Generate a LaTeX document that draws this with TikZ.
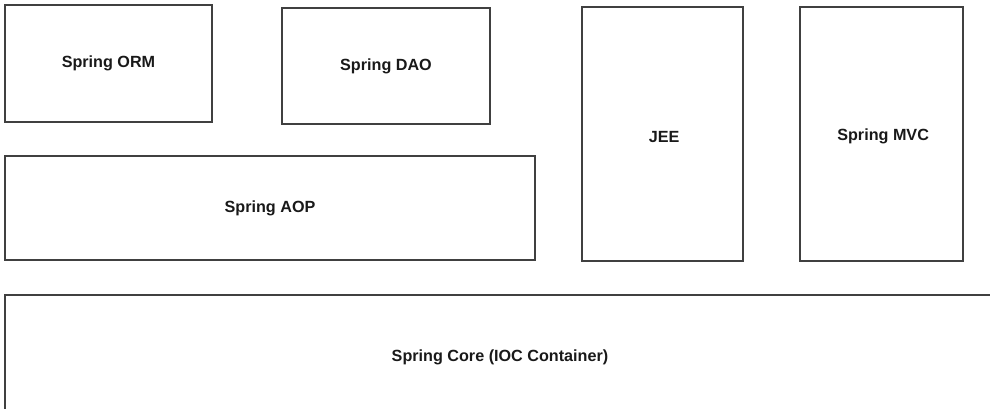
\documentclass[tikz,border=0pt]{standalone}
\usepackage{fontspec}
\setmainfont{Liberation Sans}
\usepackage{tikz}
\tikzset{
  module/.style={draw=black!75,line width=1pt},
  label/.style={font=\bfseries\fontsize{11.5}{13}\selectfont,text=black!90}
}

\begin{document}
\begin{tikzpicture}[x=0.025cm,y=-0.025cm]
  \clip (0,0) rectangle (990,408);
  % upper row
  \draw[module] (5,5) rectangle (212,122) node[label,midway] (orm) {Spring ORM};
  \draw[module] (282,8) rectangle (490,124) node[label,midway] (dao) {Spring DAO};
  \draw[module] (5,156) rectangle (535,260) node[label,midway] (aop) {Spring AOP};
  % columns
  \draw[module] (582,7) rectangle (743,261) node[label,pos=0.51] (jee) {JEE};
  \draw[module] (800,7) rectangle (963,261) node[label,pos=0.51] (mvc) {Spring MVC};
  % core, cut off at the right and bottom
  \draw[module] (5,295) rectangle (1010,430);
  \node[label] (core) at (500,357) {Spring Core (IOC Container)};
\end{tikzpicture}
\end{document}
